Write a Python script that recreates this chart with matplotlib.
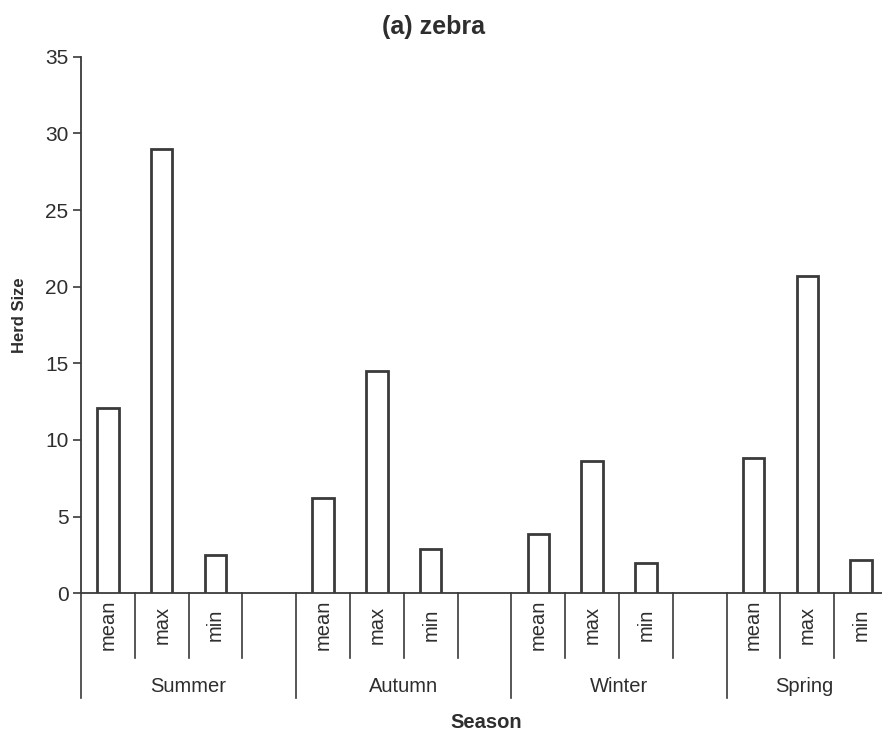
import numpy as np
import matplotlib.pyplot as plt
import matplotlib.transforms as mtransforms

plt.rcParams['font.family'] = ['Liberation Sans', 'DejaVu Sans']

# Herd size summary per season
seasons = ['Summer', 'Autumn', 'Winter', 'Spring']
stats = ['mean', 'max', 'min']
herd_mean = [12.1, 6.2, 3.9, 8.8]
herd_max = [29.0, 14.5, 8.6, 20.7]
herd_min = [2.5, 2.9, 2.0, 2.2]

TXT = '#2e2e2e'
LINE = '#3a3a3a'
W, H = 882, 734

fig = plt.figure(figsize=(W / 100, H / 100), dpi=100)
fig.patch.set_facecolor('white')

# plot area in pixels: left 81, right edge of figure, y from 56.7 to 593.3
ax_left, ax_bottom, ax_top = 81, 593.3, 56.7
ax = fig.add_axes([ax_left / W, (H - ax_bottom) / H, (W - ax_left) / W, (ax_bottom - ax_top) / H])

slot_px = 53.8
slots_per_group = 4
x_max = (W - ax_left) / slot_px

values = np.array([herd_mean, herd_max, herd_min]).T  # season x stat
for g in range(len(seasons)):
    for s in range(len(stats)):
        x = g * slots_per_group + s + 0.5
        ax.bar(x, values[g, s], width=0.4, color='white', edgecolor=LINE, linewidth=2, zorder=3)

ax.set_xlim(0, x_max)
ax.set_ylim(0, 35)
ax.set_yticks(np.arange(0, 36, 5))
ax.set_xticks([])
ax.tick_params(axis='y', direction='out', length=6, width=1.2, color=LINE, labelsize=15, labelcolor=TXT, pad=3)
for side in ['top', 'right']:
    ax.spines[side].set_visible(False)
for side in ['left', 'bottom']:
    ax.spines[side].set_color(LINE)
    ax.spines[side].set_linewidth(1.3)

# two-level category axis below the plot
trans = mtransforms.blended_transform_factory(ax.transData, ax.transAxes)
ax_h = ax_bottom - ax_top
sub_depth = -(657.7 - ax_bottom) / ax_h
grp_depth = -(698 - ax_bottom) / ax_h
sub_label_y = -(625 - ax_bottom) / ax_h
grp_label_y = -(687 - ax_bottom) / ax_h

for g, season in enumerate(seasons):
    start = g * slots_per_group
    ax.plot([start, start], [0, grp_depth], color=LINE, lw=1.2, transform=trans, clip_on=False)
    for k in range(1, slots_per_group):
        xk = start + k
        if xk < x_max:
            ax.plot([xk, xk], [0, sub_depth], color=LINE, lw=1.2, transform=trans, clip_on=False)
    for s, name in enumerate(stats):
        ax.text(start + s + 0.5, sub_label_y, name, rotation=90, ha='center', va='center',
                fontsize=14.5, color=TXT, transform=trans, clip_on=False)
    end = min(start + slots_per_group, x_max)
    ax.text((start + end) / 2, grp_label_y, season, ha='center', va='center',
            fontsize=14.5, color=TXT, transform=trans, clip_on=False)

fig.text(433 / W, 1 - 27 / H, '(a) zebra', ha='center', va='center', fontsize=18,
         fontweight='bold', color=TXT)
fig.text(20 / W, 1 - 315 / H, 'Herd Size', ha='center', va='center', rotation=90,
         fontsize=12, fontweight='bold', color=TXT)
fig.text(486 / W, 1 - 722 / H, 'Season', ha='center', va='center', fontsize=14.5,
         fontweight='bold', color=TXT)

fig.savefig('out.png', dpi=100)
